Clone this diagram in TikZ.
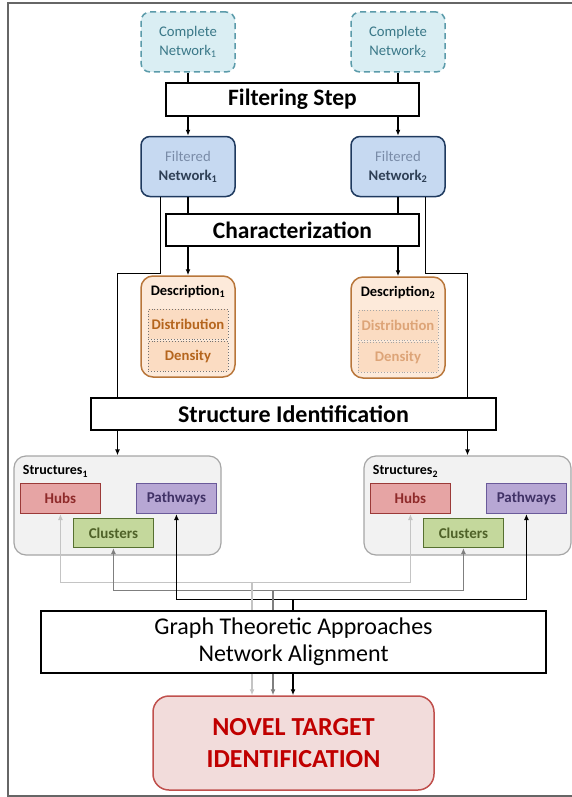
\documentclass[tikz,border=0pt]{standalone}
\usepackage{fontspec}
\setmainfont{Carlito}
\usetikzlibrary{calc,arrows.meta}

\definecolor{cnfill}{HTML}{DAEEF3}
\definecolor{cndraw}{HTML}{5B9BAA}
\definecolor{cntext}{HTML}{3A7888}
\definecolor{fnfill}{HTML}{C6D9F1}
\definecolor{fndraw}{HTML}{1F3A5F}
\definecolor{fntext}{HTML}{7A8CA8}
\definecolor{fnbold}{HTML}{2E3F55}
\definecolor{dsfill}{HTML}{FDEADA}
\definecolor{dsdraw}{HTML}{B8763A}
\definecolor{dstext}{HTML}{B5651D}
\definecolor{dsfade}{HTML}{DDA477}
\definecolor{dsinner}{HTML}{FBDCC2}
\definecolor{stfill}{HTML}{F2F2F2}
\definecolor{stdraw}{HTML}{A6A6A6}
\definecolor{hbfill}{HTML}{E6A4A4}
\definecolor{hbdraw}{HTML}{9B3A38}
\definecolor{hbtext}{HTML}{8E2A2A}
\definecolor{pwfill}{HTML}{B7A7D4}
\definecolor{pwdraw}{HTML}{6A5A9A}
\definecolor{pwtext}{HTML}{403266}
\definecolor{clfill}{HTML}{C4D89C}
\definecolor{cldraw}{HTML}{567030}
\definecolor{cltext}{HTML}{4F6228}
\definecolor{ntfill}{HTML}{F2DCDB}
\definecolor{ntdraw}{HTML}{C0504D}
\definecolor{nttext}{HTML}{C00000}
\definecolor{framec}{HTML}{666666}
\definecolor{lightc}{HTML}{C4C4C4}
\definecolor{midc}{HTML}{7F7F7F}

\tikzset{
    net/.style={rounded corners=9pt, minimum width=94pt, minimum height=60pt, inner sep=0pt, align=center, font=\fontsize{14.7}{19}\selectfont},
    complete/.style={net, dash pattern=on 6pt off 4pt, draw=cndraw, fill=cnfill, line width=1.5pt, text=cntext},
    filtered/.style={net, draw=fndraw, fill=fnfill, line width=1.5pt},
    stepbox/.style={draw=black, fill=white, line width=1.5pt, minimum width=253pt, minimum height=33pt, inner sep=0pt, font=\fontsize{23.5}{27}\selectfont\bfseries},
    desc/.style={rounded corners=12pt, draw=dsdraw, fill=dsfill, line width=1.5pt, minimum width=94pt, minimum height=101pt, inner sep=0pt},
    part/.style={draw=black!55, dotted, line width=0.9pt, fill=dsinner, minimum width=80pt, minimum height=30pt, inner sep=0pt, font=\fontsize{14.7}{17}\selectfont\bfseries},
    group/.style={rounded corners=12pt, draw=stdraw, fill=stfill, line width=1.2pt, minimum width=207pt, minimum height=99pt, inner sep=0pt},
    kind/.style={line width=1.2pt, minimum width=80pt, minimum height=30pt, inner sep=0pt, font=\fontsize{15}{17}\selectfont\bfseries},
    link/.style={line width=1.3pt},
    arr/.style={link, -{Latex[length=6pt,width=5pt]}},
    twoarr/.style={link, {Latex[length=6pt,width=5pt]}-{Latex[length=6pt,width=5pt]}}
}

\begin{document}
\begin{tikzpicture}[x=1pt, y=-1pt]
    \useasboundingbox (0,0) rectangle (572,797);
    \draw[framec, line width=2pt] (572,3) -- (8,3) -- (8,796) -- (572,796);

    \node[complete] (cn1) at (188,42) {Complete\\Network\textsubscript{1}};
    \node[complete] (cn2) at ($(cn1) + (210,0)$) {Complete\\Network\textsubscript{2}};

    \node[stepbox] (fs) at ($(cn1) + (104.5,57.5)$) {Filtering Step};

    \node[filtered] (fn1) at ($(cn1) + (0,124.5)$) {\textcolor{fntext}{Filtered}\\\textcolor{fnbold}{\bfseries Network\textsubscript{1}}};
    \node[filtered] (fn2) at ($(fn1) + (210,0)$) {\textcolor{fntext}{Filtered}\\\textcolor{fnbold}{\bfseries Network\textsubscript{2}}};

    \node[stepbox, minimum height=32pt] (ch) at ($(fs) + (0,130.5)$) {Characterization};

    \node[desc] (d1) at ($(fn1) + (0,160)$) {};
    \node[desc] (d2) at ($(d1) + (210,1)$) {};
    \node[font=\fontsize{14.5}{16}\selectfont\bfseries] (d1t) at ($(d1.north) + (0,16)$) {Description\textsubscript{1}};
    \node[font=\fontsize{14.5}{16}\selectfont\bfseries] (d2t) at ($(d2.north) + (0,16)$) {Description\textsubscript{2}};
    \node[part, text=dstext] (dist1) at ($(d1.north) + (0,49)$) {Distribution};
    \node[part, text=dstext] (dens1) at ($(d1.north) + (0,81)$) {Density};
    \node[part, text=dsfade, draw=black!35] (dist2) at ($(d2.north) + (0,49)$) {Distribution};
    \node[part, text=dsfade, draw=black!35] (dens2) at ($(d2.north) + (0,81)$) {Density};

    \node[stepbox, minimum width=405pt, minimum height=32pt, font=\fontsize{24}{27}\selectfont\bfseries] (si) at ($(ch) + (1,184)$) {Structure Identification};

    \node[group] (s1) at ($(si) + (-176,91.5)$) {};
    \node[group] (s2) at ($(s1) + (350,0)$) {};
    \node[anchor=west, font=\fontsize{14}{15}\selectfont\bfseries] (s1t) at ($(s1.north west) + (6,16)$) {Structures\textsubscript{1}};
    \node[anchor=west, font=\fontsize{14}{15}\selectfont\bfseries] (s2t) at ($(s2.north west) + (6,16)$) {Structures\textsubscript{2}};
    \node[kind, draw=hbdraw, fill=hbfill, text=hbtext] (h1) at ($(s1.north west) + (47,43)$) {Hubs};
    \node[kind, draw=pwdraw, fill=pwfill, text=pwtext] (p1) at ($(s1.north west) + (163,43)$) {Pathways};
    \node[kind, draw=cldraw, fill=clfill, text=cltext, minimum height=29pt] (c1) at ($(s1.north west) + (100,77.5)$) {Clusters};
    \node[kind, draw=hbdraw, fill=hbfill, text=hbtext] (h2) at ($(s2.north west) + (47,43)$) {Hubs};
    \node[kind, draw=pwdraw, fill=pwfill, text=pwtext] (p2) at ($(s2.north west) + (163,43)$) {Pathways};
    \node[kind, draw=cldraw, fill=clfill, text=cltext, minimum height=29pt] (c2) at ($(s2.north west) + (100,77.5)$) {Clusters};

    \node[stepbox, minimum width=505pt, minimum height=62pt, align=center, font=\fontsize{24}{27}\selectfont] (gt) at ($(si) + (0,228)$) {Graph Theoretic Approaches\\Network Alignment};

    \node[rounded corners=16pt, draw=ntdraw, fill=ntfill, line width=1.5pt, minimum width=281pt, minimum height=94pt, align=center, text=nttext, font=\fontsize{26}{32}\selectfont\bfseries] (nt) at ($(gt) + (0,101)$) {NOVEL TARGET\\IDENTIFICATION};

    % top part
    \draw[link] (cn1) -- (cn1 |- fs.north);
    \draw[link] (cn2) -- (cn2 |- fs.north);
    \draw[arr] (fs.south -| fn1) -- (fn1.north);
    \draw[arr] (fs.south -| fn2) -- (fn2.north);
    \draw[link] (fn1.south) -- (fn1 |- ch.north);
    \draw[link] (fn2.south) -- (fn2 |- ch.north);
    \draw[arr] (ch.south -| d1) -- (d1.north);
    \draw[arr] (ch.south -| d2) -- (d2.north);

    % side lines to structure identification
    \coordinate (b1) at ($(fn1.south west) + (20,76)$);
    \coordinate (b2) at ($(fn2.south east) + (-20,76)$);
    \draw[link] ($(fn1.south west) + (20,0)$) -- (b1) -| (si.north -| s1.north);
    \draw[link] ($(fn2.south east) + (-20,0)$) -- (b2) -| (si.north -| s2.north);
    \draw[arr] (si.south -| s1.north) -- (s1.north);
    \draw[arr] (si.south -| s2.north) -- (s2.north);

    % bottom part
    \coordinate (g1) at ($(gt.north) + (-41.5,-28)$);
    \coordinate (g2) at ($(gt.north) + (-20.5,-20)$);
    \coordinate (g3) at ($(gt.north) + (-0.5,-11)$);
    \draw[twoarr, lightc] (h1.south) |- (g1) -| (h2.south);
    \draw[twoarr, midc] (c1.south) |- (g2) -| (c2.south);
    \draw[twoarr] (p1.south) |- (g3) -| (p2.south);
    \draw[link, lightc] (g1) -- (g1 |- gt.north);
    \draw[link, midc] (g2) -- (g2 |- gt.north);
    \draw[link] (g3) -- (g3 |- gt.north);
    \draw[arr, lightc] (g1 |- gt.south) -- (g1 |- nt.north);
    \draw[arr, midc] (g2 |- gt.south) -- (g2 |- nt.north);
    \draw[arr] (g3 |- gt.south) -- (g3 |- nt.north);
\end{tikzpicture}
\end{document}
